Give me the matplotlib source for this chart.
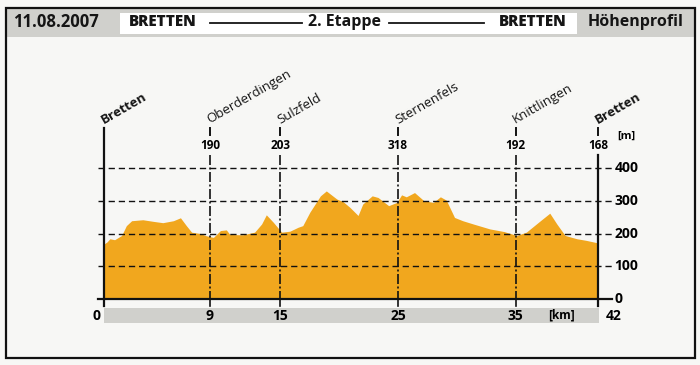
import numpy as np
import matplotlib
matplotlib.use('Agg')
import matplotlib.pyplot as plt
from matplotlib.patches import Rectangle
from matplotlib.lines import Line2D

plt.rcParams['font.family'] = ['Open Sans', 'DejaVu Sans']

# ── Data ─────────────────────────────────────────────────────
km = [0, 0.25, 0.5, 0.9, 1.5, 1.9, 2.35, 3.3, 4.2, 5.0, 5.9, 6.5, 7.0, 7.45,
      8.2, 8.6, 9.3, 9.9, 10.4, 10.7, 11.8, 12.8, 13.4, 13.8, 14.4, 15.1,
      15.8, 16.5, 16.9, 17.5, 18.4, 18.9, 19.8, 20.3, 20.9, 21.6, 22.0, 22.8,
      23.3, 24.2, 24.9, 25.3, 25.7, 26.4, 27.2, 28.0, 28.6, 29.1, 29.8, 30.5,
      31.4, 32.8, 34.0, 35.1, 35.9, 37.1, 37.9, 38.5, 39.2, 40.2, 41.0, 41.9, 42]
elev = [168, 174, 184, 181, 194, 224, 239, 242, 237, 233, 239, 248, 224, 204,
        200, 194, 188, 209, 211, 197, 196, 204, 229, 257, 234, 204,
        207, 219, 224, 265, 315, 330, 305, 298, 280, 255, 290, 315,
        310, 285, 295, 318, 312, 325, 300, 295, 312, 302, 249, 239,
        229, 214, 206, 194, 204, 239, 262, 229, 194, 184, 179, 172, 168]

place_names = ['Bretten', 'Oberderdingen', 'Sulzfeld', 'Sternenfels', 'Knittlingen', 'Bretten']
place_km = [0, 9, 15, 25, 35, 42]
place_elev = ['', '190', '203', '318', '192', '168']

y_ticks = [0, 100, 200, 300, 400]
x_ticks = [9, 15, 25, 35]

header_date = '11.08.2007'
header_start = 'BRETTEN'
header_stage = '2. Etappe'
header_end = 'BRETTEN'
header_title = 'Höhenprofil'

# ── Layout (pixels) ──────────────────────────────────────────
W, H = 700, 365
ORANGE = '#F1A71E'
GRAY = '#D0D0CC'
PAPER = '#F7F7F5'
INK = '#151515'


def fx(x):
    return x / W


def fy(y):
    return 1 - y / H


fig = plt.figure(figsize=(7, 3.65), dpi=100, facecolor=PAPER)

# frame + header band
fig.add_artist(Rectangle((fx(6), fy(37)), fx(689), 29 / H, transform=fig.transFigure,
                         facecolor=GRAY, edgecolor='none'))
fig.add_artist(Rectangle((fx(120), fy(34)), fx(457), 21 / H, transform=fig.transFigure,
                         facecolor='white', edgecolor='none'))
fig.add_artist(Rectangle((fx(6), fy(358)), fx(689), 350 / H, transform=fig.transFigure,
                         facecolor='none', edgecolor='#111111', linewidth=1.6))

hy = fy(22)
fig.text(fx(13), hy, header_date, fontsize=12, fontweight='bold', va='center', ha='left', color=INK)
fig.text(fx(129), hy, header_start, fontsize=11, fontweight='heavy', va='center', ha='left', color=INK)
fig.text(fx(345), hy, header_stage, fontsize=11.5, fontweight='bold', va='center', ha='center', color=INK)
fig.text(fx(567), hy, header_end, fontsize=11, fontweight='heavy', va='center', ha='right', color=INK)
fig.text(fx(588), hy, header_title, fontsize=11.5, fontweight='bold', va='center', ha='left', color=INK)
for x0, x1 in [(210, 302), (389, 484)]:
    fig.add_artist(Line2D([fx(x0), fx(x1)], [fy(22.5), fy(22.5)], transform=fig.transFigure,
                          color=INK, linewidth=1.3))

# ── Main axes ────────────────────────────────────────────────
ax = fig.add_axes([fx(104), fy(299), (598 - 104) / W, (299 - 168) / H])
ax.set_xlim(0, 42)
ax.set_ylim(0, 400)
ax.axis('off')

ax.fill_between(km, elev, 0, color=ORANGE, linewidth=0, zorder=1)

# horizontal dashed grid
for v in y_ticks[1:]:
    ax.plot([-0.5, 43.2], [v, v], color='#111111', linewidth=1.0,
            dashes=(4.5, 2.8), clip_on=False, zorder=3)
    ax.text(43.4, v, str(v), fontsize=10, fontweight='bold', va='center', ha='left')
ax.text(43.4, 0, '0', fontsize=10, fontweight='bold', va='center', ha='left')
ax.text(43.6, 497, '[m]', fontsize=8, fontweight='bold', va='center', ha='left')

# bottom axis and gray km bar
ax.plot([-0.5, 43.2], [0, 0], color='#111111', linewidth=1.6, clip_on=False, zorder=4)
ax.add_patch(Rectangle((0, -73), 42.1, 45.5, facecolor=GRAY, edgecolor='none',
                       clip_on=False, zorder=1))
for k in x_ticks:
    ax.plot([k, k], [0, -20], color='#111111', linewidth=1.2, clip_on=False, zorder=4)
    ax.text(k, -51, str(k), fontsize=10, fontweight='bold', va='center', ha='center')
ax.text(-0.6, -51, '0', fontsize=10, fontweight='bold', va='center', ha='center')
ax.text(43.3, -51, '42', fontsize=10, fontweight='bold', va='center', ha='center')
ax.text(38.9, -49, '[km]', fontsize=8.5, fontweight='bold', va='center', ha='center')

# place markers
for name, k, e in zip(place_names, place_km, place_elev):
    end = k in (place_km[0], place_km[-1])
    if k == place_km[0]:
        ax.plot([k, k], [522, -20], color='#111111', linewidth=1.6, clip_on=False, zorder=4)
    else:
        ax.plot([k, k], [522, 500], color='#111111', linewidth=1.4, clip_on=False, zorder=4)
        ax.text(k, 470, e, fontsize=8.5, fontweight='bold', va='center', ha='center')
        if end:
            ax.plot([k, k], [440, -20], color='#111111', linewidth=1.6, clip_on=False, zorder=4)
        else:
            ax.plot([k, k], [440, 0], color='#111111', linewidth=1.2,
                    dashes=(6, 1.5, 1.2, 1.5), clip_on=False, zorder=4)
    ax.text(k, 535, name, fontsize=9.5, color=INK,
            fontweight='bold' if end else 'normal', rotation=30,
            rotation_mode='anchor', ha='left', va='baseline')

fig.savefig('out.png', dpi=100, facecolor=PAPER)
